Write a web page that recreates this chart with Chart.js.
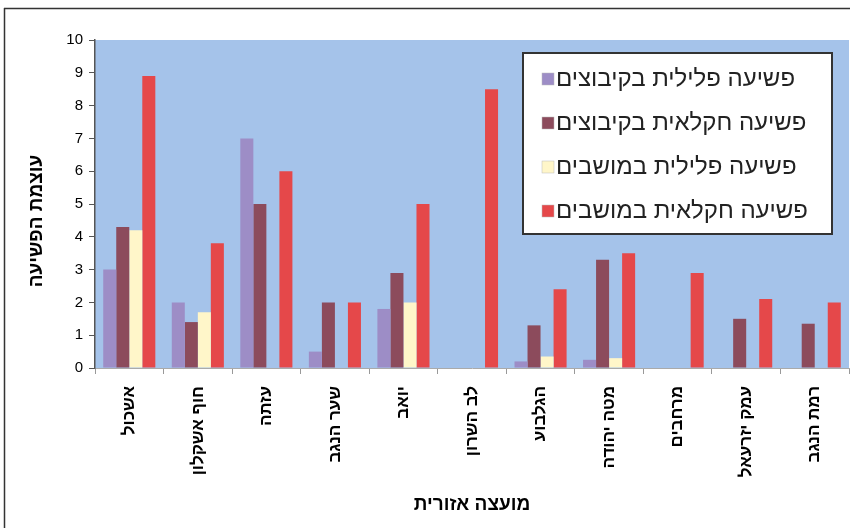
<!DOCTYPE html>
<html lang="he">
<head>
<meta charset="utf-8">
<script src="https://cdn.jsdelivr.net/npm/chart.js@4.4.0/dist/chart.umd.min.js"></script>
<style>
  html, body { margin: 0; padding: 0; background: #fff; }
  #wrap { width: 850px; height: 528px; }
</style>
</head>
<body>
<div id="wrap"><canvas id="crime-chart" width="850" height="528"></canvas></div>
<script>
// regional councils (x axis)
const councils = ['אשכול', 'חוף אשקלון', 'עזתה', 'שער הנגב', 'יואב', 'לב השרון', 'הגלבוע', 'מטה יהודה', 'מרחבים', 'עמק יזרעאל', 'רמת הנגב'];
const seriesNames = ['פשיעה פלילית בקיבוצים', 'פשיעה חקלאית בקיבוצים', 'פשיעה פלילית במושבים', 'פשיעה חקלאית במושבים'];

const criminalKibbutz = [3, 2, 7, 0.5, 1.8, 0, 0.2, 0.25, 0, 0, 0];
const agriKibbutz = [4.3, 1.4, 5, 2, 2.9, 0, 1.3, 3.3, 0, 1.5, 1.35];
const criminalMoshav = [4.2, 1.7, 0, 0, 2, 0, 0.35, 0.3, 0, 0, 0];
const agriMoshav = [8.9, 3.8, 6, 2, 5, 8.5, 2.4, 3.5, 2.9, 2.1, 2];

const yMin = 0;
const yMax = 10;
const yStep = 1;
const yTitle = 'עוצמת הפשיעה';
const xTitle = 'מועצה אזורית';

const colors = ['#9D8DC6', '#8C4B5C', '#FFF6C9', '#E5484A'];
const FONT = '"Liberation Sans", Arial, sans-serif';

const plotBackground = {
  id: 'plotBackground',
  beforeDraw(chart) {
    const { ctx, chartArea: a } = chart;
    ctx.save();
    ctx.fillStyle = '#A5C3EA';
    ctx.fillRect(a.left, a.top, a.right - a.left, a.bottom - a.top);
    ctx.restore();
  }
};

// frame lines round the picture (top and left) + the y title, which sits a bit low in the original
const frame = {
  id: 'frame',
  afterDraw(chart) {
    const ctx = chart.ctx;
    ctx.save();
    ctx.strokeStyle = '#333';
    ctx.lineWidth = 1.5;
    ctx.beginPath();
    ctx.moveTo(4, 8.5);
    ctx.lineTo(850, 8.5);
    ctx.moveTo(4.5, 8);
    ctx.lineTo(4.5, 528);
    ctx.stroke();

    ctx.translate(37, 221);
    ctx.rotate(-Math.PI / 2);
    ctx.fillStyle = '#000';
    ctx.font = 'bold 19px ' + FONT;
    ctx.textAlign = 'center';
    ctx.textBaseline = 'middle';
    ctx.fillText(yTitle, 0, 0);
    ctx.restore();
  }
};

// legend box inside the plot, top right
const boxLegend = {
  id: 'boxLegend',
  afterDraw(chart) {
    const { ctx, chartArea: a } = chart;
    const w = 309, h = 181;
    const left = a.right - 17 - w;
    const top = a.top + 13;
    ctx.save();
    ctx.fillStyle = '#fff';
    ctx.fillRect(left, top, w, h);
    ctx.strokeStyle = '#333';
    ctx.lineWidth = 2;
    ctx.strokeRect(left, top, w, h);
    ctx.font = '24px ' + FONT;
    ctx.textAlign = 'left';
    ctx.textBaseline = 'middle';
    chart.data.datasets.forEach((ds, i) => {
      const cy = top + 26 + i * 44;
      ctx.fillStyle = ds.backgroundColor;
      ctx.fillRect(left + 19, cy - 6, 12, 12);
      ctx.strokeStyle = '#bbb';
      ctx.lineWidth = 0.5;
      ctx.strokeRect(left + 19, cy - 6, 12, 12);
      ctx.fillStyle = '#222';
      ctx.fillText(ds.label, left + 33, cy);
    });
    ctx.restore();
  }
};

const ctx = document.getElementById('crime-chart').getContext('2d');

new Chart(ctx, {
  type: 'bar',
  data: {
    labels: councils,
    datasets: [criminalKibbutz, agriKibbutz, criminalMoshav, agriMoshav].map((values, i) => ({
      label: seriesNames[i],
      data: values,
      backgroundColor: colors[i],
      borderWidth: 0,
      categoryPercentage: 0.76,
      barPercentage: 1.0
    }))
  },
  options: {
    responsive: false,
    animation: false,
    layout: { padding: { top: 40, right: 1, left: 0, bottom: 0 } },
    plugins: {
      legend: { display: false },
      tooltip: { enabled: false }
    },
    scales: {
      x: {
        grid: { offset: true, drawOnChartArea: false, drawTicks: true, tickLength: 6, color: '#999' },
        border: { color: '#aaa' },
        ticks: {
          autoSkip: false,
          minRotation: 90,
          maxRotation: 90,
          padding: 12,
          color: '#000',
          font: { family: FONT, size: 17, weight: 'bold' }
        },
        title: {
          display: true,
          text: xTitle,
          color: '#000',
          font: { family: FONT, size: 19, weight: 'bold' },
          padding: { top: 0, bottom: 12 }
        },
        afterFit(scale) { scale.height = 160; }
      },
      y: {
        min: yMin,
        max: yMax,
        grid: { drawOnChartArea: false, drawTicks: true, tickLength: 6, color: '#555' },
        border: { color: '#555', width: 1.5 },
        ticks: {
          stepSize: yStep,
          padding: 6,
          color: '#000',
          font: { family: FONT, size: 15 }
        },
        afterFit(scale) { scale.width = 95; }
      }
    }
  },
  plugins: [plotBackground, boxLegend, frame]
});
</script>
</body>
</html>
